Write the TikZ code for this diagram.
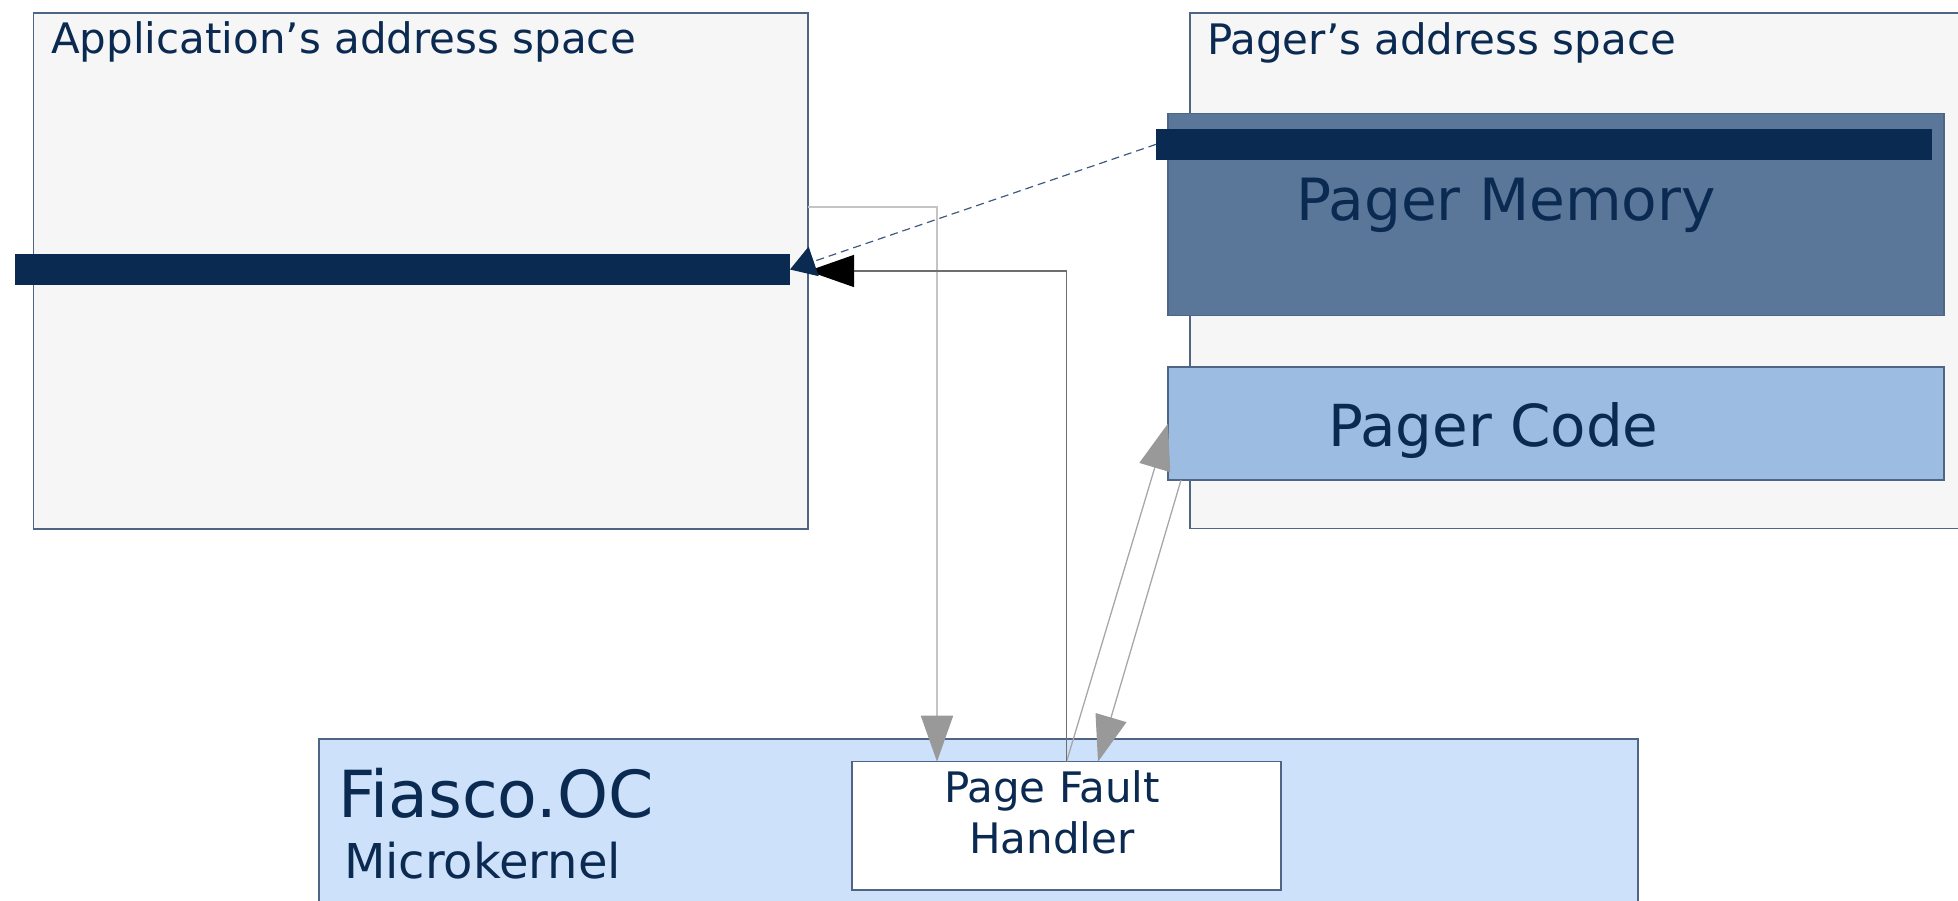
\documentclass[tikz,border=0pt]{standalone}
\usepackage{fontspec}
\setmainfont{DejaVu Sans}
\usetikzlibrary{arrows.meta}
\definecolor{navy}{HTML}{0B2A51}
\definecolor{bordc}{HTML}{4F6585}
\definecolor{spacefill}{HTML}{F6F6F6}
\definecolor{memfill}{HTML}{5A7699}
\definecolor{codefill}{HTML}{9DBCE2}
\definecolor{kernfill}{HTML}{CDE1FB}
\definecolor{tipgray}{HTML}{999999}
\definecolor{linegray}{HTML}{C4C4C4}
\definecolor{darkline}{HTML}{6E6E6E}
\definecolor{dashc}{HTML}{3D5A80}
\begin{document}
\begin{tikzpicture}[x=1pt,y=-1pt,
  box/.style={draw=bordc, line width=1.2pt, inner sep=0pt, outer sep=0pt, anchor=north west},
  bar/.style={fill=navy, draw=none, inner sep=0pt, outer sep=0pt, anchor=north west},
  lbl/.style={anchor=base west, inner sep=0pt, outer sep=0pt, text=navy},
  graytip/.style={-{Triangle[length=46pt,width=32pt,color=tipgray]}},
  lightconn/.style={draw=linegray, line width=1.8pt, graytip},
  thinconn/.style={draw=linegray!85!black, line width=1.3pt, graytip},
  darkconn/.style={draw=darkline, line width=1.4pt, -{Triangle[length=46pt,width=32pt,color=black]}},
  dashconn/.style={draw=dashc, line width=1.2pt, dash pattern=on 8pt off 5pt, -{Triangle[length=25pt,width=31pt,color=navy]}}
]
\useasboundingbox (0,0) rectangle (1958,901);
\clip (0,0) rectangle (1958,901);

% application address space
\node[box, fill=spacefill, minimum width=774.5pt, minimum height=516pt] (app) at (33.5,13) {};
\node[lbl, font=\fontsize{42}{50}\selectfont] (apptxt) at (51,54) {Application’s address space};
\node[bar, minimum width=775pt, minimum height=31pt] (appbar) at (15,254) {};

% pager address space
\node[box, fill=spacefill, minimum width=800pt, minimum height=515.5pt] (pager) at (1190,13) {};
\node[lbl, font=\fontsize{42}{50}\selectfont] (pagertxt) at (1207,55) {Pager’s address space};
\node[box, fill=memfill, minimum width=776pt, minimum height=202pt] (mem) at (1168,113.6) {};
\node[bar, minimum width=776pt, minimum height=31.5pt] (pagerbar) at (1156,128.6) {};
\node[lbl, font=\fontsize{58.2}{68}\selectfont] (memtxt) at (1296,220.7) {Pager Memory};
\node[box, fill=codefill, minimum width=776pt, minimum height=113pt] (code) at (1168,367) {};
\node[lbl, font=\fontsize{57.9}{68}\selectfont] (codetxt) at (1328,446) {Pager Code};

% kernel
\node[box, fill=kernfill, minimum width=1319pt, minimum height=200pt] (kern) at (319,739) {};
\node[lbl, font=\fontsize{64.9}{75}\selectfont] (kerntxt) at (338,817) {Fiasco.OC};
\node[lbl, font=\fontsize{48}{56}\selectfont] (microtxt) at (344,878) {Microkernel};
\node[box, fill=white, minimum width=429pt, minimum height=128.3pt] (pfh) at (852,761.7) {};
\node[anchor=north, inner sep=0pt, outer sep=0pt, text=navy, align=center,
      font=\fontsize{42}{51}\selectfont] (pfhtxt) at (1052,770.5) {Page Fault\\Handler};

% connectors
\coordinate (pfhin) at ([xshift=-129.5pt]pfh.north);
\coordinate (pfhret) at ([xshift=31.5pt]pfh.north);
\coordinate (codeout) at ([xshift=13pt]code.south west);
\draw[lightconn] (app.east |- 0,207) -| (pfhin);
\draw[thinconn] (pfh.north) -- (code.west);
\draw[thinconn] (codeout) -- (pfhret);
\draw[darkconn] (pfh.north) |- (app.east |- 0,271);
\draw[dashconn] (pagerbar.west) -- (appbar.east);
\end{tikzpicture}
\end{document}
